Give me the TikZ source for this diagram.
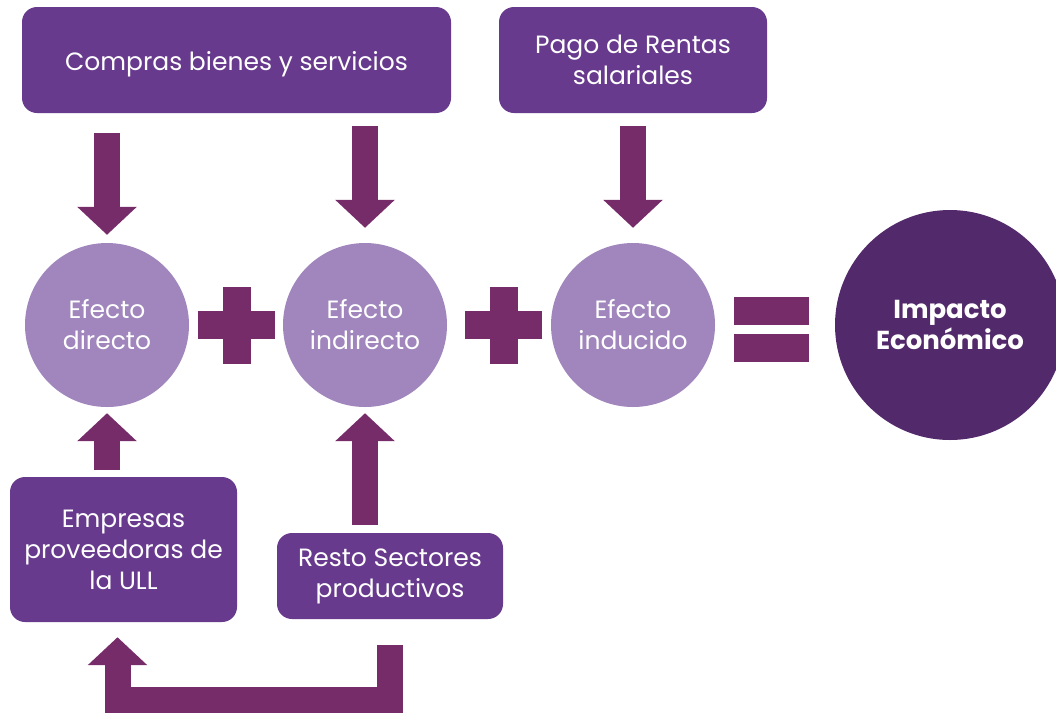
\documentclass[tikz,border=0pt]{standalone}
\usepackage{fontspec}
\setmainfont{Poppins}
\usepackage{tikz}
\usetikzlibrary{
	positioning				% relative placement
	, arrows.meta			% Triangle tips for the block arrows
	, calc
}
\definecolor{boxcol}{RGB}{104,58,141}
\definecolor{arrowcol}{RGB}{119,44,106}
\definecolor{lightcol}{RGB}{160,134,188}
\definecolor{darkcol}{RGB}{82,41,106}

\begin{document}
\begin{tikzpicture}[
				x=1pt, y=-1pt,
				box/.style={
				rectangle,
				rounded corners=15pt,
				fill=boxcol,
				text=white,
				align=center,
				inner sep=0pt,
				font=\fontsize{25}{31}\selectfont
			},
			effect/.style={
				circle,
				fill=lightcol,
				text=white,
				align=center,
				inner sep=0pt,
				minimum size=164pt,
				font=\fontsize{25}{31}\selectfont
			},
			impact/.style={
				circle,
				fill=darkcol,
				text=white,
				align=center,
				inner sep=0pt,
				minimum size=230pt,
				font=\bfseries\fontsize{26}{31}\selectfont
			},
			bigarrow/.style={
				draw=arrowcol,
				line width=26pt,
				-{Triangle[width=58pt,length=28pt]}
			},
			plussign/.pic={
				\fill[arrowcol] (-38.5,-14) rectangle (38.5,14);
				\fill[arrowcol] (-14,-38.5) rectangle (14,38.5);
			},
			equalsign/.pic={
				\fill[arrowcol] (-37.5,-32.5) rectangle (37.5,-4.5);
				\fill[arrowcol] (-37.5,4.5) rectangle (37.5,32.5);
			}]

			\clip (0,0) rectangle (1056,713);
			\useasboundingbox (0,0) rectangle (1056,713);

			%%% Sources on top
			\node [box, minimum width=429pt, minimum height=106pt] (compras) at (236.5,60) {\raisebox{-10pt}[0pt][0pt]{Compras bienes y servicios}};
			\node [box, minimum width=268pt, minimum height=106pt] (pago) at (633,60) {Pago de Rentas\\salariales};

			%%% The three effects and the total
			\node [effect] (directo) at (107,325) {Efecto\\directo};
			\node [effect] (indirecto) at (365,325) {Efecto\\indirecto};
			\node [effect] (inducido) at (633,325) {Efecto\\inducido};
			\node [impact] (impacto) at (950,325) {Impacto\\Económico};

			\pic at (236.5,325) {plussign};
			\pic at (503.5,325) {plussign};
			\pic at (771.5,329.5) {equalsign};

			%%% Sources below
			\node [box, minimum width=227pt, minimum height=145pt] (empresas) at (123.5,549.5) {Empresas\\proveedoras de\\la ULL};
			\node [box, minimum width=226pt, minimum height=86pt] (resto) at (390,576) {Resto Sectores\\productivos};
			\coordinate (turn) at (117.5,699.5);

			% Arrows into the effects
			\draw [bigarrow, shorten <=20pt, shorten >=8pt] (compras.south -| directo.north) -- (directo.north);
			\draw [bigarrow, shorten <=13pt, shorten >=15pt] (compras.south -| indirecto.north) -- (indirecto.north);
			\draw [bigarrow, shorten <=13pt, shorten >=15pt] (pago.south) -- (inducido.north);
			\draw [bigarrow, shorten <=7pt, shorten >=6pt] (empresas.north -| directo.south) -- (directo.south);
			\draw [bigarrow, shorten <=8pt, shorten >=6pt] (resto.north -| indirecto.south) -- (indirecto.south);

			% Feedback from the other sectors to the suppliers
			\draw [bigarrow, line join=miter, shorten <=26pt, shorten >=15pt] (resto.south) |- (turn) -- (turn |- empresas.south);

		\end{tikzpicture}
\end{document}
